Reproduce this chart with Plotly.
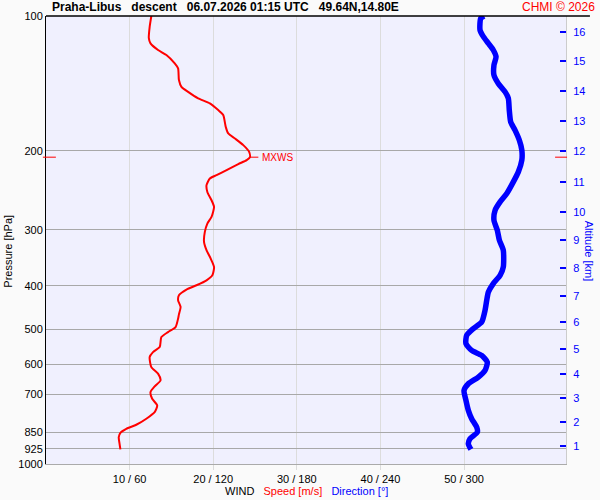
import math
import plotly.graph_objects as go

# ---- data ----
speed_p = [100, 105.7, 112.1, 115.1, 119.1, 122.2, 127.6, 130.9, 139.0, 143.9, 147.7, 152.7,
           156.7, 162.2, 166.4, 176.8, 182.9, 187.7, 194.2, 201.0, 206.6, 209.8, 214.1, 220.8,
           226.6, 230.5, 238.6, 247.0, 257.8, 266.8, 280.9, 290.6, 303.4, 319.4, 333.3, 347.9,
           363.3, 379.2, 389.0, 399.1, 408.0, 420.2, 431.1, 446.3, 463.4, 473.8, 494.7, 507.6,
           520.8, 548.3, 562.6, 577.2, 607.7, 628.6, 650.6, 671.0, 691.0, 715.0, 740.1, 766.0,
           792.5, 817.4, 834.4, 851.8, 871.3, 901.5, 928.0]
speed_ms = [12.6, 12.4, 12.3, 12.5, 13.4, 14.4, 15.4, 15.8, 15.9, 16.2, 17.0, 18.2,
            19.6, 20.6, 21.2, 21.5, 21.8, 22.6, 23.6, 24.3, 24.4, 24.0, 23.0, 21.6,
            20.4, 19.6, 19.2, 19.3, 19.8, 20.1, 19.8, 19.3, 19.0, 18.9, 19.2, 19.7,
            20.1, 19.9, 19.2, 18.0, 16.8, 15.9, 15.8, 16.1, 15.9, 15.8, 15.5, 14.6,
            13.8, 13.6, 12.8, 12.4, 12.6, 13.4, 13.7, 13.0, 12.5, 12.7, 13.3, 13.0,
            12.0, 10.8, 9.6, 8.9, 8.7, 8.8, 8.9]

dir_p = [100, 101.2, 107.5, 111.2, 115.1, 119.1, 123.3, 128.7, 135.5, 141.4, 147.7, 152.7,
         162.2, 172.3, 179.8, 189.3, 199.3, 209.8, 222.8, 234.6, 249.0, 260.0, 271.4, 285.7,
         300.8, 316.7, 333.3, 363.3, 379.2, 395.6, 413.2, 431.1, 453.9, 482.1, 498.6, 516.3,
         538.8, 557.8, 572.3, 592.4, 618.1, 639.7, 662.0, 685.2, 721.3, 759.2, 792.5, 827.6,
         849.1, 878.5, 901.5, 928.0]
dir_deg = [314.4, 312.0, 311.5, 313.9, 317.5, 321.0, 323.0, 321.5, 321.5, 324.6, 329.5, 331.8,
           332.5, 333.5, 336.6, 339.7, 341.5, 341.5, 339.0, 335.4, 330.7, 325.9, 322.3, 321.5,
           323.9, 325.4, 328.2, 328.2, 325.9, 321.0, 317.5, 316.3, 315.1, 312.7, 306.7, 301.9,
           301.4, 305.5, 312.7, 316.7, 315.1, 310.3, 303.1, 300.0, 301.4, 303.1, 305.5, 309.1,
           309.6, 304.3, 303.1, 305.0]

p_ticks = [100, 200, 300, 400, 500, 600, 700, 850, 925, 1000]
x_tick_speed = [10, 20, 30, 40, 50]
x_tick_text = ["10 / 60", "20 / 120", "30 / 180", "40 / 240", "50 / 300"]
alt_km = [1, 2, 3, 4, 5, 6, 7, 8, 9, 10, 11, 12, 13, 14, 15, 16]
alt_p = [913.8, 807.6, 714.0, 631.0, 554.8, 482.7, 422.4, 365.7, 316.6, 274.2,
         234.9, 200.3, 171.7, 146.9, 126.1, 108.4]

mxws_p = 206.6
mxws_speed = 24.4

SPEED_MAX = 62.2
DIR_MAX = SPEED_MAX * 6

FONT = "Liberation Sans, Arial, sans-serif"
RED = "#ff0000"
BLUE = "#0000ff"

fig = go.Figure()
fig.add_trace(go.Scatter(x=dir_deg, y=dir_p, xaxis="x2", yaxis="y", mode="lines",
                         line=dict(color=BLUE, width=5.5, shape="spline", smoothing=0.6),
                         showlegend=False, hoverinfo="skip"))
fig.add_trace(go.Scatter(x=speed_ms, y=speed_p, xaxis="x", yaxis="y", mode="lines",
                         line=dict(color=RED, width=2, shape="spline", smoothing=0.6),
                         showlegend=False, hoverinfo="skip"))
# invisible trace to anchor the altitude axis
fig.add_trace(go.Scatter(x=[None], y=[None], xaxis="x", yaxis="y2", mode="lines",
                         showlegend=False, hoverinfo="skip"))

fig.update_layout(
    width=600, height=500,
    margin=dict(l=46, r=34, t=16, b=36, autoexpand=False),
    paper_bgcolor="#fafafa",
    plot_bgcolor="#f0f0fe",
    font=dict(family=FONT, size=11, color="black"),
    xaxis=dict(range=[0, SPEED_MAX], tickvals=x_tick_speed, ticktext=x_tick_text,
               showgrid=True, gridcolor="#dcdcdc", gridwidth=1,
               ticks="outside", ticklen=5, tickcolor="#dcdcdc",
               showline=True, linecolor="#aaaaaa", linewidth=1,
               zeroline=False, tickfont=dict(size=11, color="black"), fixedrange=True),
    xaxis2=dict(range=[0, DIR_MAX], overlaying="x", visible=False, fixedrange=True),
    yaxis=dict(type="log", range=[3, 2], tickvals=p_ticks, ticktext=[str(v) for v in p_ticks],
               showgrid=True, gridcolor="#a8a8a8", gridwidth=1,
               showline=True, linecolor="black", linewidth=1, ticks="",
               zeroline=False, tickfont=dict(size=11, color="black"), fixedrange=True),
    yaxis2=dict(type="log", range=[3, 2], overlaying="y", side="right",
                tickvals=alt_p, ticktext=[str(v) for v in alt_km],
                showgrid=False, showline=True, linecolor="#cccccc", linewidth=1,
                ticks="inside", ticklen=6, tickcolor=BLUE, tickwidth=1.5,
                ticklabelstandoff=4,
                tickfont=dict(size=11, color=BLUE), zeroline=False, fixedrange=True),
)

shapes = [
    # top black border extending toward the copyright
    dict(type="line", xref="paper", yref="paper", x0=0, x1=1.046, y0=1, y1=1,
         line=dict(color="black", width=1.5)),
    # MXWS marker
    dict(type="line", xref="x", yref="y", x0=mxws_speed, x1=mxws_speed + 1.0,
         y0=mxws_p, y1=mxws_p, line=dict(color=RED, width=1)),
    dict(type="line", xref="paper", yref="y", x0=-0.006, x1=0.019,
         y0=mxws_p, y1=mxws_p, line=dict(color=RED, width=1)),
    dict(type="line", xref="paper", yref="y", x0=0.979, x1=1.002,
         y0=mxws_p, y1=mxws_p, line=dict(color=RED, width=1)),
]
fig.update_layout(shapes=shapes)

NB = "\u00a0"
title = ("Praha-Libus" + NB * 3 + "descent" + NB * 3 + "06.07.2026 01:15 UTC" + NB * 3 +
         "49.64N,14.80E")
annotations = [
    dict(text="<b>" + title + "</b>", xref="paper", yref="paper", x=0.008, y=1.0,
         xanchor="left", yanchor="bottom", showarrow=False,
         font=dict(size=12, color="black", family=FONT)),
    dict(text="CHMI © 2026", xref="paper", yref="paper", x=1.0596, y=1.0,
         xanchor="right", yanchor="bottom", showarrow=False,
         font=dict(size=12, color=RED, family=FONT)),
    dict(text="MXWS", xref="x", yref="y", x=mxws_speed + 1.2, y=math.log10(mxws_p),
         xanchor="left", yanchor="middle", showarrow=False,
         font=dict(size=10, color=RED, family=FONT)),
    dict(text="Pressure [hPa]", xref="paper", yref="paper", x=-0.073, y=0.474,
         xanchor="center", yanchor="middle", textangle=-90, showarrow=False,
         font=dict(size=11, color="black", family=FONT)),
    dict(text="Altitude [km]", xref="paper", yref="paper", x=1.044, y=0.474,
         xanchor="center", yanchor="middle", textangle=90, showarrow=False,
         font=dict(size=11, color=BLUE, family=FONT)),
    dict(text=("WIND" + NB * 3 + "<span style='color:#ff0000'>Speed [m/s]</span>" + NB * 3 +
               "<span style='color:#0000ff'>Direction [°]</span>"),
         xref="paper", yref="paper", x=0.5, y=-0.061, xanchor="center", yanchor="middle",
         showarrow=False, font=dict(size=11, color="black", family=FONT)),
]
fig.update_layout(annotations=annotations)

fig.write_html("out.html", config={"displayModeBar": False},
               post_script="document.body.style.margin='0';document.body.style.padding='0';")
